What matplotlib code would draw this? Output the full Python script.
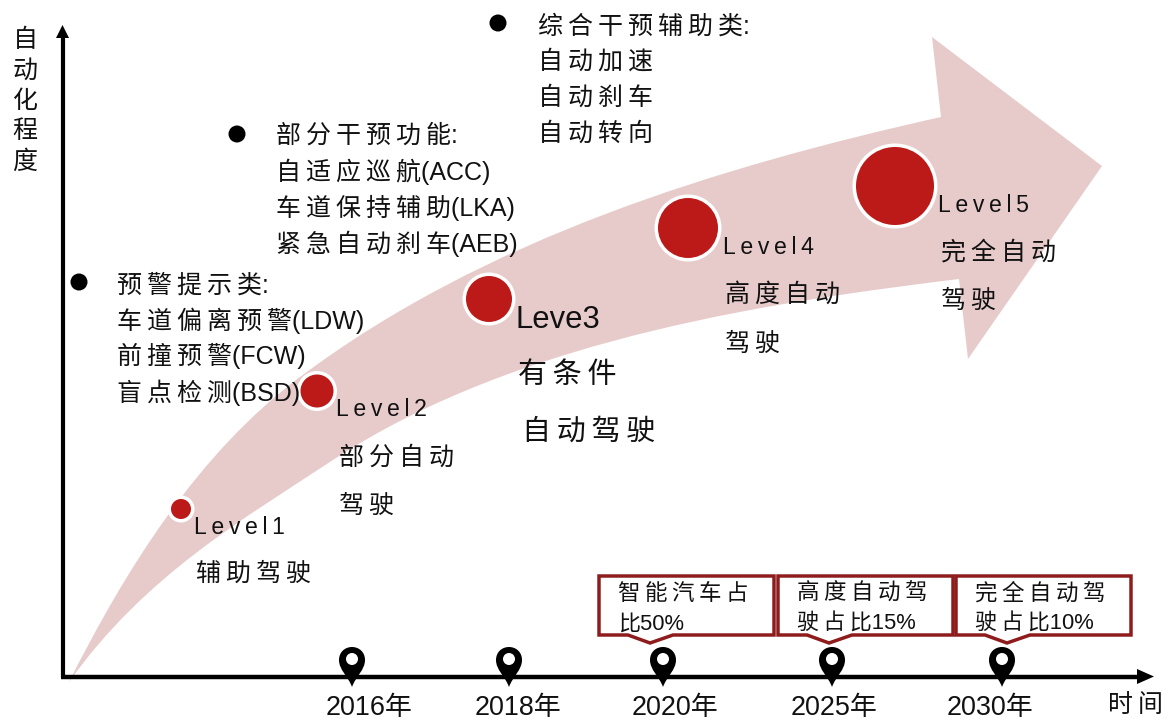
#!/usr/bin/env python
import matplotlib
matplotlib.use("Agg")
import matplotlib.pyplot as plt
from matplotlib.patches import Circle, PathPatch, Polygon
from matplotlib.path import Path

WIDTH, HEIGHT = 1169, 722
PINK = "#E7CBCB"
RED = "#BC1A18"
DARK_RED = "#8E1C1C"
TEXT = "#111111"
FONT = ["Liberation Sans", "Noto Sans CJK SC", "DejaVu Sans"]
THIN = "\u2009"

years = ["2016年", "2018年", "2020年", "2025年", "2030年"]
year_x = [369, 518, 675, 834, 990]
pin_x = [352, 509, 663, 832, 1002]

level_names = ["Level1", "Level2", "Leve3", "Level4", "Level5"]
level_circles = [(181, 509, 10), (317, 391, 16.5), (489, 299, 23), (688, 228, 30), (895, 186, 39)]
level_lines = [["辅助驾驶"], ["部分自动", "驾驶"], ["有条件", "自动驾驶"], ["高度自动", "驾驶"], ["完全自动", "驾驶"]]

warning_lines = ["预警提示类:", "车道偏离预警(LDW)", "前撞预警(FCW)", "盲点检测(BSD)"]
partial_lines = ["部分干预功能:", "自适应巡航(ACC)", "车道保持辅助(LKA)", "紧急自动刹车(AEB)"]
combined_lines = ["综合干预辅助类:", "自动加速", "自动刹车", "自动转向"]

box_lines = [["智能汽车占", "比50%"], ["高度自动驾", "驶占比15%"], ["完全自动驾", "驶占比10%"]]

# outline of the big curved arrow, two cubic segments per edge
tail = (69, 682)
upper_curve = [(126, 569), (198, 453), (300, 377), (484, 239), (717, 167), (941, 117)]
arrow_head = [(932, 37), (1102, 166), (968, 359), (959, 279)]
lower_curve = [(790, 300), (523, 335), (333, 460), (245, 518), (145, 575), tail]


def px(size):
    # font size in points for a height given in pixels at 100 dpi
    return size * 0.72


def is_cjk(ch):
    return ord(ch) > 0x2E7F


def spaced(s):
    # the CJK labels are set with wide tracking
    out = []
    for i, ch in enumerate(s):
        out.append(ch)
        if i < len(s) - 1 and is_cjk(ch) and is_cjk(s[i + 1]):
            out.append(THIN)
    return "".join(out)


def tracked(s):
    return THIN.join(s)


def label(ax, x, y, s, size=25, ha="left"):
    ax.text(x, y + 2, s, fontsize=px(size), family=FONT, color=TEXT, ha=ha, va="center", zorder=7)


def draw_arrow(ax):
    verts = [tail] + upper_curve + arrow_head + lower_curve
    codes = (
        [Path.MOVETO]
        + [Path.CURVE4] * len(upper_curve)
        + [Path.LINETO] * len(arrow_head)
        + [Path.CURVE4] * len(lower_curve)
    )
    ax.add_patch(PathPatch(Path(verts, codes), facecolor=PINK, edgecolor="none", zorder=1))


def draw_pin(ax, x):
    tip = (x, 687)
    verts = [tip, (x - 4, 676), (x - 13, 670), (x - 13, 660), (x - 13, 652), (x - 7, 647), (x, 647),
             (x + 7, 647), (x + 13, 652), (x + 13, 660), (x + 13, 670), (x + 4, 676), tip]
    codes = [Path.MOVETO] + [Path.CURVE4] * 12
    ax.add_patch(PathPatch(Path(verts, codes), facecolor="black", edgecolor="none", zorder=5))
    ax.add_patch(Circle((x, 659), 6, facecolor="white", edgecolor="none", zorder=6))


def draw_box(ax, left, lines):
    right = left + 175
    tip = left + 51
    pts = [(left, 576), (right, 576), (right, 635), (tip + 23, 635), (tip, 643), (tip - 22, 635), (left, 635)]
    ax.add_patch(Polygon(pts, closed=True, facecolor="white", edgecolor=DARK_RED, linewidth=2.5, zorder=3))
    label(ax, left + 19, 592, spaced(lines[0]), size=22.5)
    label(ax, left + 19, 622, spaced(lines[1]), size=22)


fig = plt.figure(figsize=(WIDTH / 100, HEIGHT / 100), dpi=100)
ax = fig.add_axes([0, 0, 1, 1])
ax.set_xlim(0, WIDTH)
ax.set_ylim(HEIGHT, 0)
ax.axis("off")

draw_arrow(ax)

# axes
ax.plot([62.5, 62.5], [678, 36], color="black", lw=3, zorder=4, solid_capstyle="butt")
ax.plot([61, 1140], [676.5, 676.5], color="black", lw=3.2, zorder=4, solid_capstyle="butt")
ax.add_patch(Polygon([(62.5, 25), (56, 38), (69, 38)], facecolor="black", edgecolor="none", zorder=4))
ax.add_patch(Polygon([(1154, 676.5), (1137, 669), (1137, 684)], facecolor="black", edgecolor="none", zorder=4))
ax.text(25, 101, "\n".join("自动化程度"), fontsize=px(25), family=FONT, color=TEXT,
        ha="center", va="center", linespacing=1.33)
label(ax, 1108, 703, spaced("时间"))

for x in pin_x:
    draw_pin(ax, x)
for x, year in zip(year_x, years):
    label(ax, x, 706, year, size=27, ha="center")

# level markers with their labels
for (cx, cy, r) in level_circles:
    ax.add_patch(Circle((cx, cy), r + 3.5, facecolor="white", edgecolor="none", zorder=3))
    ax.add_patch(Circle((cx, cy), r, facecolor=RED, edgecolor="none", zorder=3))

name_pos = [(194, 525), (336, 408), (516, 318), (723, 245), (938, 203)]
text_x = [196, 339, 518, 725, 941]
text_y = [[572], [456, 504], [373, 430], [293, 342], [251, 299]]
for i, name in enumerate(level_names):
    big = i == 2
    if big:
        label(ax, name_pos[i][0], name_pos[i][1], name, size=31)
    else:
        label(ax, name_pos[i][0], name_pos[i][1], tracked(name), size=23)
    for line, y in zip(level_lines[i], text_y[i]):
        label(ax, text_x[i] + (4 if big and y == 430 else 0), y, spaced(line), size=29 if big else 25)

# feature lists with bullets
for x, lines, ys, bx, by in [
    (117, warning_lines, [284, 319, 354, 391], 79, 282),
    (276, partial_lines, [134, 170, 206, 242], 237, 134),
    (538, combined_lines, [25, 60, 96, 132], 498, 23),
]:
    ax.add_patch(Circle((bx, by), 8.5, facecolor="black", edgecolor="none", zorder=4))
    for line, ly in zip(lines, ys):
        label(ax, x, ly, spaced(line))

for left, lines in zip([599, 778, 956], box_lines):
    draw_box(ax, left, lines)

fig.savefig("out.png", dpi=100)
plt.close(fig)
